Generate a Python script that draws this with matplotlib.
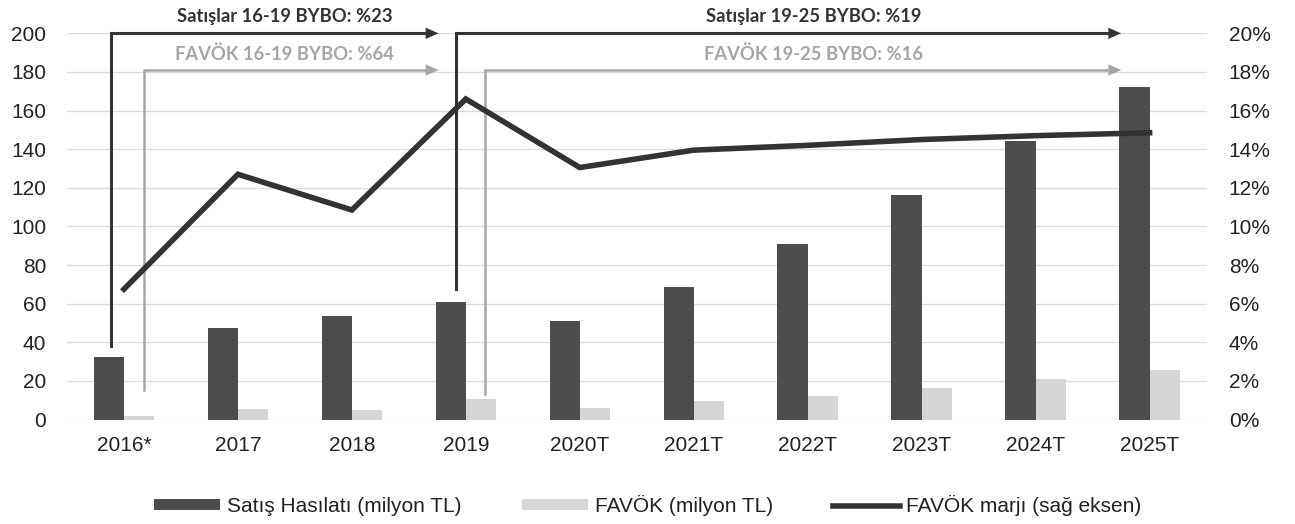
import numpy as np
import matplotlib.pyplot as plt
from matplotlib.patches import Patch
from matplotlib.lines import Line2D

# veriler
yillar = ["2016*", "2017", "2018", "2019", "2020T", "2021T", "2022T", "2023T", "2024T", "2025T"]
satis = [32.5, 47.6, 53.5, 60.6, 51.1, 68.7, 90.9, 116.4, 144.2, 172.3]
favok = [2.0, 5.2, 4.7, 10.4, 6.0, 9.5, 12.1, 16.5, 21.1, 25.6]
favok_marji = [6.75, 12.7, 10.85, 16.6, 13.05, 13.95, 14.2, 14.5, 14.7, 14.85]

koyu = "#4d4d4d"
acik = "#d6d6d6"
cizgi = "#333333"
ok_acik = "#a6a6a6"

plt.rcParams['font.family'] = ['Liberation Sans', 'DejaVu Sans']

fig = plt.figure(figsize=(12.95, 5.24), dpi=100)
ax = fig.add_axes([0.0517, 0.1994, 0.880, 0.737])
ax2 = ax.twinx()

x = np.arange(len(yillar))
w = 0.265
ax.bar(x - w, satis, w, align='edge', color=koyu, zorder=2)
ax.bar(x, favok, w, align='edge', color=acik, zorder=2)

ax2.plot(x, favok_marji, color=cizgi, lw=4, solid_joinstyle='miter', zorder=3)

ax.set_xlim(-0.5, len(yillar) - 0.5)
ax.set_ylim(0, 200)
ax.set_yticks(range(0, 201, 20))
ax2.set_ylim(0, 20)
ax2.set_yticks(range(0, 21, 2))
ax2.set_yticklabels([f"{v}%" for v in range(0, 21, 2)])
ax.set_xticks(x)
ax.set_xticklabels(yillar)

ax.grid(axis='y', color='#dcdcdc', lw=1, zorder=0)
ax.set_axisbelow(True)
for a in (ax, ax2):
    for s in a.spines.values():
        s.set_visible(False)
    a.tick_params(length=0, labelsize=15, colors='#222222')
ax.tick_params(axis='y', pad=15)
ax2.tick_params(axis='y', pad=16)
ax.tick_params(axis='x', pad=12)

# BYBO oklari: (baslangic x, baslangic y, ust y, ok ucu x, renk, kalinlik)
oklar = [
    (-0.11, 38, 200, 2.76, cizgi, 2.2),
    (0.18, 15.5, 181, 2.76, ok_acik, 1.8),
    (2.91, 67.5, 200, 8.75, cizgi, 2.2),
    (3.17, 13, 181, 8.75, ok_acik, 1.8),
]
for x0, y0, y1, x1, renk, lw in oklar:
    ax.plot([x0, x0, x1 - 0.12], [y0, y1, y1], color=renk, lw=lw,
            solid_joinstyle='miter', clip_on=False, zorder=4)
    ax.annotate("", xy=(x1, y1), xytext=(x1 - 0.14, y1),
                arrowprops=dict(arrowstyle="-|>,head_length=0.9,head_width=0.4",
                                color=renk, lw=0.1, shrinkA=0, shrinkB=0),
                annotation_clip=False, zorder=4)

etiketler = [
    (1.41, 208.5, "Satışlar 16-19 BYBO: %23", cizgi),
    (1.41, 189, "FAVÖK 16-19 BYBO: %64", ok_acik),
    (6.05, 208.5, "Satışlar 19-25 BYBO: %19", cizgi),
    (6.05, 189, "FAVÖK 19-25 BYBO: %16", ok_acik),
]
for tx, ty, metin, renk in etiketler:
    ax.text(tx, ty, metin, ha='center', va='center', fontsize=13.2,
            fontweight='bold', color=renk, family=['Lato', 'DejaVu Sans'],
            clip_on=False)

tutamaklar = [
    Patch(facecolor=koyu, label="Satış Hasılatı (milyon TL)"),
    Patch(facecolor=acik, label="FAVÖK (milyon TL)"),
    Line2D([0], [0], color=cizgi, lw=4, label="FAVÖK marjı (sağ eksen)"),
]
fig.legend(handles=tutamaklar, loc='center', bbox_to_anchor=(0.5, 0.035), ncol=3,
           frameon=False, fontsize=15, handlelength=3.2, handleheight=0.45,
           handletextpad=0.3, columnspacing=2.9, labelcolor='#222222')

plt.savefig("out.png", dpi=100)
